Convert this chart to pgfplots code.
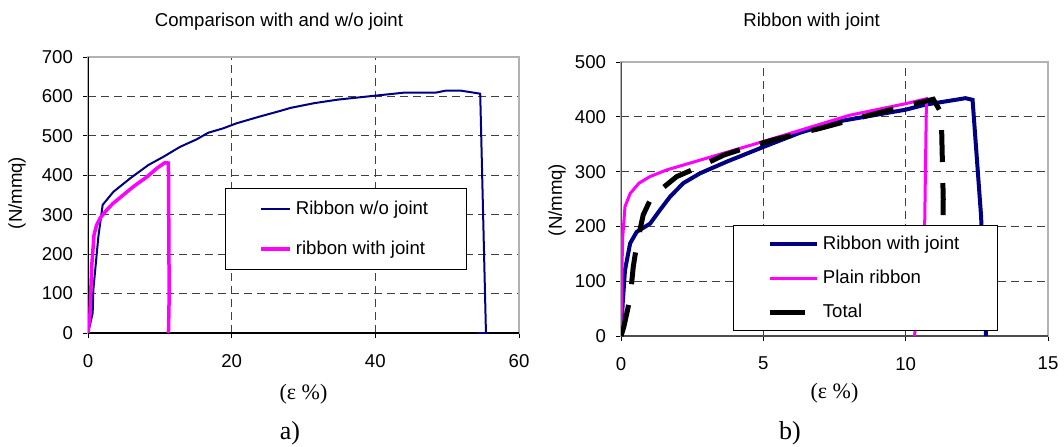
\documentclass[border=0pt]{standalone}
\usepackage{pgfplots}
\pgfplotsset{compat=1.18}
\usepackage{fontspec}
\setmainfont{Liberation Sans}
\newfontfamily\seriffont{Liberation Serif}
\definecolor{navy}{RGB}{0,0,128}
\definecolor{mag}{RGB}{255,0,255}
\newcommand\fs{\fontsize{9.3}{11}\selectfont}

\pgfplotsset{
  exc/.style={
    scale only axis,
    anchor=south west,
    axis line style={gray!60, line width=0.6pt},
    tick align=outside, xtick pos=left, ytick pos=left,
    major tick length=2.5pt,
    tick style={black, line width=0.5pt},
    ticklabel style={font=\fs},
    xticklabel style={yshift=-4.5pt},
    yticklabel style={xshift=-1.5pt},
    /pgf/number format/assume math mode=true,
    xminorgrids, yminorgrids,
    minor tick length=0pt,
    minor grid style={black!75, line width=0.5pt, dash pattern=on 4pt off 2.5pt},
    legend cell align=left,
    legend style={font=\fs, draw=black, line width=0.5pt, fill=white,
      inner xsep=17pt, anchor=north west},
  },
  totalleg/.style={legend image code/.code={\draw[##1, solid] (0pt,0pt) -- (17.5pt,0pt);}},
}

\begin{document}
\begin{tikzpicture}[x=1pt,y=1pt]
\useasboundingbox (0,0) rectangle (532,223);

% a) comparison
\begin{axis}[exc, at={(44pt,56.5pt)}, width=215.5pt, height=138pt,
  xmin=0, xmax=60, ymin=0, ymax=700,
  xtick={0,20,40,60}, ytick={0,100,...,700},
  minor xtick={20,40}, minor ytick={100,200,...,600},
  legend style={at={(0.318,0.526)}, inner ysep=4.3pt, row sep=7.7pt},
  legend image code/.code={\draw[#1] (0pt,0pt) -- (14.4pt,0pt);}]
\draw[black, line width=1.2pt] (rel axis cs:0,0) -- (rel axis cs:0,1);
\draw[black, line width=0.6pt] (rel axis cs:0,0) -- (rel axis cs:1,0);
\addplot[navy, line width=1pt] coordinates {
(0,0)(0.65,50)(0.74,109)(1.44,244)(2.04,325)(3.53,358)(5.85,392)(8.4,426)
(10.5,447)(12.8,472)(15.1,491)(16.75,508)(18.8,519)(20.7,532)(23.9,549)
(26.7,563)(28.2,571)(31.5,583)(34.8,592)(40,602)(44.2,610)(48.5,610)
(49.9,615)(51.8,615)(54.6,607)(55.4,0)(54.1,0)
};
\addlegendentry{Ribbon w/o joint}
\addplot[mag, line width=1.75pt] coordinates {
(0,0)(0.28,50)(0.51,168)(0.84,249)(1.2,274)(1.67,291)(2.6,312)(3.5,329)
(4.9,350)(6.3,371)(8.2,396)(9.6,418)(10.7,432)(11.2,431)(11.3,92)(11.2,0)
};
\addlegendentry{ribbon with joint}
\end{axis}

% b) ribbon with joint
\begin{axis}[exc, at={(310.5pt,55pt)}, width=213.5pt, height=137pt,
  xmin=0, xmax=15, ymin=0, ymax=500,
  xtick={0,5,10,15}, ytick={0,100,...,500},
  minor xtick={5,10}, minor ytick={100,200,300,400},
  legend style={at={(0.262,0.405)}, inner ysep=3pt, row sep=5pt},
  legend image code/.code={\draw[#1] (0pt,0pt) -- (23.5pt,0pt);}]
\draw[black!70, line width=0.7pt] (rel axis cs:0,0) -- (rel axis cs:0,1);
\draw[black!70, line width=0.7pt] (rel axis cs:0,0) -- (rel axis cs:1,0);
\addplot[navy, line width=2pt] coordinates {
(0,0)(0.06,60)(0.14,120)(0.32,169)(0.55,190)(1.02,205)(1.37,230)(1.72,254)
(2.19,279)(2.78,297)(3.71,318)(5.0,345)(6.29,371)(7.57,391)(10.0,413)
(10.67,422)(11.75,431)(12.1,434)(12.35,431)(12.65,218)(12.82,0)
};
\addlegendentry{Ribbon with joint}
\addplot[mag, line width=1.5pt] coordinates {
(0,0)(0.02,96)(0.06,181)(0.14,236)(0.32,260)(0.63,279)(1.02,291)(1.6,303)
(2.78,321)(5.0,355)(8.04,403)(10.0,424)(10.73,433)(10.67,212)(10.31,0)
};
\addlegendentry{Plain ribbon}
\addplot[black, line width=2.5pt, dash pattern=on 16pt off 10.5pt, totalleg] coordinates {
(0,0)(0.1,17)(0.32,69)(0.43,126)(0.55,166)(0.78,221)(1.08,254)(1.96,291)
(2.76,309)(3.6,330)(4.3,342)(5.35,358)(7.0,379)(8.5,400)(10.0,420)
(10.97,432)(11.25,407)(11.32,250)(11.3,100)(11.15,0)
};
\addlegendentry{Total}
\end{axis}

\node[font=\fs] at (139.5,212) {Comparison with and w/o joint};
\node[font=\fs] at (405.8,212) {Ribbon with joint};
\node[font=\fs, rotate=90] at (8.5,126.5) {(N/mmq)};
\node[font=\fs, rotate=90] at (278.5,123) {(N/mmq)};
\node[font=\seriffont\fontsize{11}{13}\selectfont] at (151.75,26) {(ε \%)};
\node[font=\seriffont\fontsize{11}{13}\selectfont] at (417.25,26.5) {(ε \%)};
\node[font=\seriffont\fontsize{13}{15}\selectfont] at (145,6.5) {a)};
\node[font=\seriffont\fontsize{13}{15}\selectfont] at (395,6.5) {b)};
\end{tikzpicture}
\end{document}
